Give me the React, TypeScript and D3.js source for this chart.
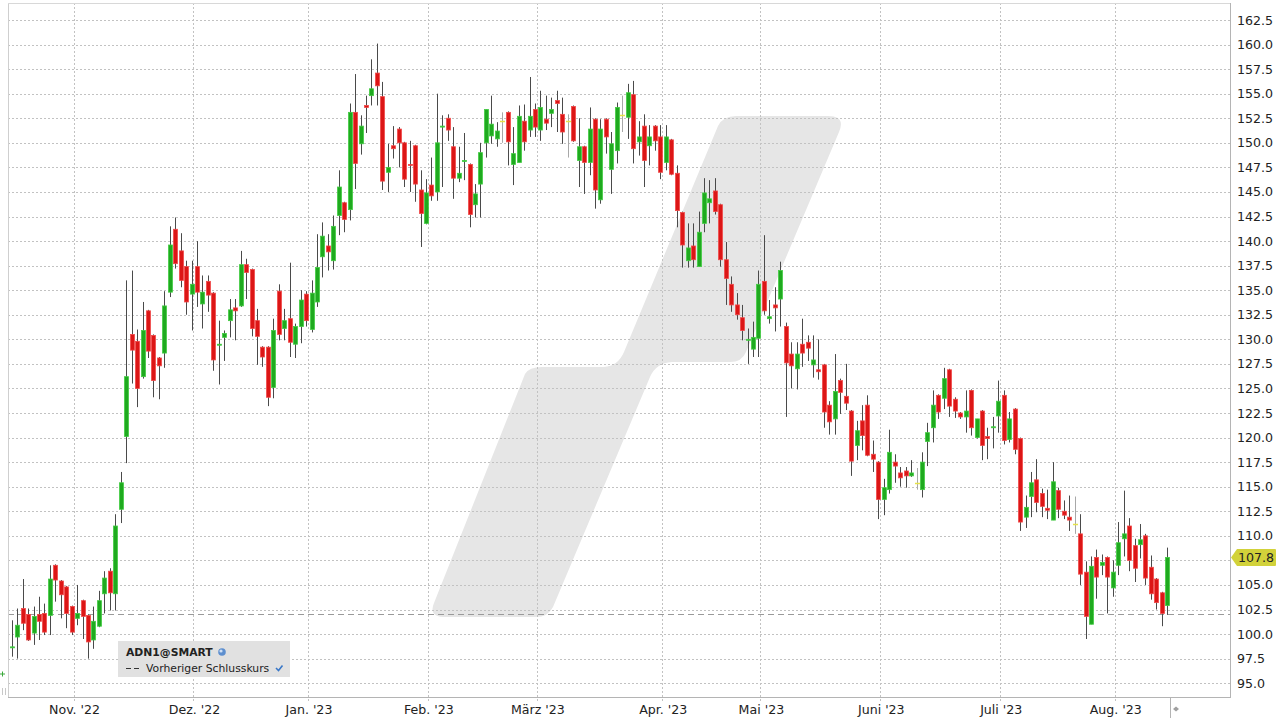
import React from 'react';
import * as d3 from 'd3';

// ---- Data (ADN1@SMART daily candles, Oct 2022 – Aug 2023) ----
const opens = [
  98.6, 99.7, 102.6, 102.0, 100.1, 102.0, 102.1, 101.9, 107.0, 105.4,
  104.8, 102.8, 101.6, 103.4, 101.9, 99.4, 100.8, 104.1, 106.4, 104.1,
  112.7, 120.1, 130.5, 129.8, 126.2, 132.9, 130.4, 128.1, 128.6, 134.8,
  141.2, 139.0, 137.4, 134.6, 137.4, 133.6, 135.9, 134.7, 129.4, 130.2,
  131.9, 133.2, 133.4, 137.6, 137.1, 131.9, 129.2, 129.2, 125.1, 134.9,
  131.1, 132.1, 129.5,
  131.3, 134.6, 131.0, 133.8, 138.4, 139.5, 138.0,
  142.6, 143.9, 143.2, 153.1, 149.9, 153.8, 154.8, 157.1, 154.7, 147.0,
  149.7, 151.4, 150.0, 147.8, 149.7, 145.2, 141.8, 145.7, 145.0, 151.6,
  152.5, 149.6, 146.4, 148.1, 147.8, 143.7, 145.8, 150.0, 150.7, 150.4,
  152.2, 153.1, 147.8, 148.0, 152.2, 151.3, 153.4, 151.3, 152.4, 153.0,
  154.3, 152.9, 152.2, 153.7, 148.2, 149.6, 148.0, 152.4, 144.2, 152.4,
  147.3, 149.2, 152.8, 152.6, 154.9, 150.1, 151.7, 149.7, 151.7, 150.6,
  148.0, 150.3, 146.9, 142.9, 138.0, 139.5, 137.4,
  141.8, 143.9, 145.1, 143.7, 138.1, 135.6, 133.5, 132.2, 129.9, 129.0,
  130.1, 135.9, 132.1, 133.5, 134.1,
  131.3, 128.5, 127.0, 129.5, 129.7, 127.4, 126.9, 127.4, 123.3, 121.9,
  125.8, 124.2, 122.7, 119.2, 121.7, 123.3, 118.3, 117.5, 113.7, 114.7,
  117.5, 116.4, 116.6, 116.1, 115.4, 114.7, 119.6, 121.0, 124.3, 124.0,
  126.9, 123.9, 122.5, 122.1, 124.8, 120.0, 122.7, 120.1, 121.0, 122.2,
  124.3, 119.8, 122.9, 119.9, 111.9, 114.0, 115.7, 114.3, 112.8,
  111.6, 114.6, 112.5, 111.9, 111.2, 110.2, 106.3, 101.0, 107.8, 107.0,
  107.8, 104.7, 107.0, 109.7, 111.0, 109.0, 109.1, 110.0, 106.8, 105.6, 104.2, 102.9,
];

const highs = [
  101.4, 102.6, 105.6, 102.6, 102.8, 103.8, 103.1, 107.0, 107.1, 105.5,
  104.9, 102.9, 105.0, 103.5, 102.0, 102.8, 104.4, 106.4, 106.7, 112.2,
  116.5, 136.0, 137.0, 131.0, 133.8, 133.0, 130.5, 128.2, 134.9, 141.5,
  142.4, 140.8, 138.0, 138.0, 140.0, 136.5, 136.5, 134.8, 131.9, 130.9,
  134.1, 134.1, 139.0, 138.2, 137.2, 133.1, 129.3, 129.3, 132.1, 135.6,
  133.1, 137.8, 131.6,
  135.0, 134.9, 136.0, 140.7, 141.9, 140.7, 142.6,
  147.2, 144.0, 154.0, 157.0, 152.8, 154.8, 158.5, 160.1, 156.2, 149.9,
  151.7, 151.6, 150.1, 150.2, 149.8, 147.2, 146.3, 148.5, 155.0, 152.8,
  152.9, 151.6, 149.6, 151.0, 147.9, 145.8, 150.0, 153.4, 154.8, 152.1,
  153.1, 153.2, 151.6, 153.8, 153.9, 156.7, 154.0, 155.3, 154.8, 154.6,
  155.3, 154.6, 152.9, 153.8, 152.5, 149.7, 153.6, 152.5, 152.4, 152.5,
  151.1, 154.1, 154.8, 156.0, 156.3, 152.2, 152.9, 151.8, 151.8, 151.8,
  151.8, 150.4, 147.7, 143.0, 141.8, 141.8, 143.0,
  146.4, 146.2, 146.4, 143.8, 139.9, 136.4, 134.7, 133.5, 131.1, 131.8,
  137.0, 140.6, 134.0, 135.3, 137.9,
  131.7, 129.7, 129.7, 132.1, 130.4, 130.4, 130.0, 127.5, 123.7, 128.5,
  126.0, 127.5, 122.8, 121.7, 123.3, 124.3, 119.7, 117.6, 115.8, 120.8,
  118.3, 117.0, 117.0, 117.7, 116.9, 118.5, 121.5, 124.8, 124.4, 127.1,
  127.0, 124.1, 122.6, 124.8, 124.9, 121.9, 122.8, 121.0, 122.1, 125.8,
  124.8, 122.6, 123.0, 120.0, 114.1, 116.5, 117.8, 114.8, 114.7,
  117.5, 114.9, 113.6, 114.1, 114.0, 112.2, 107.4, 107.9, 108.6, 108.1,
  107.9, 107.5, 111.4, 114.6, 111.8, 109.7, 111.2, 110.2, 108.0, 105.7, 104.3, 108.8,
];

const lows = [
  97.7, 97.5, 100.4, 99.3, 98.9, 99.4, 99.9, 99.9, 103.3, 101.6,
  100.6, 99.9, 100.9, 99.5, 97.5, 98.5, 100.7, 102.1, 102.4, 102.4,
  111.3, 117.4, 125.5, 123.1, 126.0, 128.1, 124.1, 123.9, 127.1, 134.3,
  137.2, 135.3, 132.5, 130.9, 133.3, 131.1, 132.8, 126.8, 125.4, 127.8,
  130.2, 129.9, 133.3, 134.1, 130.3, 127.4, 127.2, 123.2, 124.0, 129.9,
  129.9, 128.2, 128.1,
  129.6, 131.3, 130.7, 133.3, 136.3, 137.0, 137.1,
  140.6, 140.9, 142.1, 145.3, 148.8, 151.0, 153.8, 153.8, 145.2, 145.0,
  148.4, 147.5, 145.5, 145.0, 144.0, 139.4, 141.7, 144.1, 144.1, 145.5,
  150.2, 144.3, 146.0, 146.2, 141.4, 142.4, 142.4, 148.5, 149.9, 149.6,
  150.0, 147.7, 145.7, 148.0, 149.2, 150.6, 150.6, 150.2, 151.3, 151.6,
  151.1, 149.9, 148.5, 150.1, 145.5, 144.8, 146.7, 143.3, 143.8, 148.9,
  144.8, 147.9, 151.1, 150.4, 147.9, 148.7, 145.5, 147.7, 149.2, 146.3,
  147.2, 146.7, 141.4, 137.3, 137.3, 137.3, 137.4,
  140.9, 141.8, 142.7, 137.4, 133.5, 132.8, 132.0, 129.9, 127.5, 128.2,
  128.2, 132.5, 131.6, 130.8, 131.3,
  122.1, 125.0, 124.9, 127.2, 127.8, 126.1, 125.9, 121.0, 120.3, 120.3,
  122.4, 122.8, 116.1, 117.7, 118.7, 118.1, 116.5, 111.7, 112.1, 114.3,
  115.4, 115.0, 114.9, 116.0, 114.7, 113.9, 117.1, 119.5, 121.9, 122.9,
  122.1, 122.0, 121.9, 120.5, 120.2, 119.9, 117.7, 117.8, 118.9, 120.5,
  119.3, 119.5, 118.3, 110.5, 110.8, 111.9, 112.4, 111.9, 111.7,
  111.6, 111.8, 111.7, 110.5, 110.2, 105.0, 99.5, 101.0, 103.6, 106.0,
  102.1, 103.8, 106.0, 107.9, 106.4, 105.3, 107.7, 105.0, 103.5, 102.5, 100.8, 101.95,
];

const closes = [
  98.7, 100.9, 101.1, 99.4, 101.8, 101.3, 100.2, 105.6, 105.5, 104.0,
  102.1, 100.2, 102.1, 101.8, 99.2, 101.3, 103.4, 105.7, 104.2, 111.0,
  115.4, 126.2, 128.9, 125.0, 130.9, 128.8, 125.8, 127.3, 133.4, 139.6,
  137.7, 136.0, 133.8, 135.6, 134.8, 134.8, 134.5, 127.9, 129.5, 130.6,
  133.0, 132.9, 137.6, 136.8, 131.1, 130.3, 128.2, 124.1, 130.9, 130.5,
  131.9, 129.7, 131.3,
  134.0, 131.9, 134.7, 137.3, 140.5, 138.9, 141.5,
  145.5, 142.2, 153.1, 147.9, 151.7, 153.6, 155.5, 155.8, 146.1, 147.5,
  149.4, 150.0, 146.3, 147.7, 145.8, 142.8, 144.9, 144.6, 150.0, 151.7,
  151.3, 146.4, 146.9, 148.2, 142.7, 144.8, 149.0, 153.4, 151.9, 151.2,
  152.2, 150.1, 148.9, 152.7, 150.1, 152.7, 151.6, 153.6, 152.0, 153.4,
  154.0, 151.1, 152.2, 150.2, 149.6, 148.0, 151.4, 145.2, 151.4, 150.6,
  149.9, 153.6, 152.8, 155.1, 149.4, 150.6, 148.2, 150.6, 150.2, 147.0,
  150.6, 146.8, 143.1, 139.6, 139.3, 138.1, 140.9,
  144.9, 144.3, 143.0, 138.1, 136.2, 133.5, 132.5, 130.9, 130.0, 130.2,
  135.6, 132.9, 132.3, 133.2, 137.0,
  127.6, 127.3, 128.5, 128.6, 129.1, 127.9, 126.7, 122.6, 121.6, 124.7,
  124.6, 123.5, 117.6, 120.7, 120.2, 118.2, 117.8, 113.7, 114.9, 118.5,
  117.1, 115.9, 116.1, 116.4, 115.4, 117.5, 120.5, 123.3, 122.6, 126.0,
  123.2, 122.7, 122.1, 122.7, 121.0, 121.9, 119.2, 119.9, 121.1, 123.7,
  119.7, 121.9, 118.8, 111.4, 112.9, 115.4, 113.4, 113.0, 112.6,
  115.5, 112.7, 112.1, 111.6, 111.2, 106.1, 101.8, 106.9, 105.8, 107.3,
  105.8, 106.3, 109.3, 110.2, 107.5, 106.7, 109.6, 105.7, 104.1, 103.2, 102.1, 107.8,
];

const monthLabels = ["Nov. '22", "Dez. '22", "Jan. '23", "Feb. '23", "März '23", "Apr. '23", "Mai '23", "Juni '23", "Juli '23", "Aug. '23"];
const monthStartIdx = [11, 33, 54, 76, 96, 119, 137, 159, 181, 202];
const yTickValues = [95, 97.5, 100, 102.5, 105, 107.5, 110, 112.5, 115, 117.5, 120, 122.5, 125, 127.5, 130, 132.5, 135, 137.5, 140, 142.5, 145, 147.5, 150, 152.5, 155, 157.5, 160, 162.5];
const previousClose = 102.05;
const symbolName = 'ADN1@SMART';
const legendLabel = 'Vorheriger Schlusskurs';

const FONT = "'DejaVu Sans', Verdana, sans-serif";

export default function App() {
  const N = opens.length;
  const left = 8, right = 1230, top = 3, bottom = 697;
  const x = d3.scaleLinear().domain([0, N - 1]).range([11.7, 1167.3]);
  const y = d3.scaleLinear().domain([95, 162.5]).range([683.2, 20]);
  const px = (v: number) => Math.round(v) + 0.5;

  const lastClose = closes[N - 1];
  const yl = y(lastClose);

  const watermark =
    'M446,617 Q428,617 434,603 L525,374 Q529,367 542,367 L604,367 Q618,366 624,352 ' +
    'L718,126 Q723,116 736,116 L828,116 Q846,116 839,132 L746,352 Q742,362 730,362 ' +
    'L672,362 Q656,363 650,377 L553,607 Q548,617 536,617 Z';

  return (
    <svg width={1280} height={720} style={{ position: 'absolute', left: 0, top: 0 }} fontFamily={FONT}>
      <rect width={1280} height={720} fill="#ffffff" />
      <path d={watermark} fill="#e6e6e6" />

      {/* horizontal grid */}
      {yTickValues.map((v) => (
        <line key={'h' + v} x1={left} x2={right} y1={px(y(v))} y2={px(y(v))}
          stroke="#c2c2c2" strokeDasharray="2,2" strokeWidth={1} />
      ))}
      {/* vertical month grid */}
      {monthStartIdx.map((i, k) => (
        <line key={'v' + k} x1={px(x(i + 0.35))} x2={px(x(i + 0.35))} y1={top} y2={bottom + 4}
          stroke="#c2c2c2" strokeDasharray="2,2" strokeWidth={1} />
      ))}

      {/* previous close */}
      <line x1={left} x2={right} y1={px(y(previousClose))} y2={px(y(previousClose))}
        stroke="#9a9a9a" strokeDasharray="6,4" strokeWidth={1.2} />

      {/* candles */}
      {opens.map((o, i) => {
        const c = closes[i], h = highs[i], l = lows[i];
        const cx = x(i);
        const wx = px(cx);
        const doji = Math.abs(c - o) < 0.05;
        const up = c >= o;
        const yTop = y(Math.max(o, c));
        const yBot = y(Math.min(o, c));
        const bh = Math.max(1, yBot - yTop);
        return (
          <g key={'c' + i}>
            <line x1={wx} x2={wx} y1={y(h)} y2={y(l)} stroke={doji ? '#a8a8a8' : '#4a4a4a'} strokeWidth={1} />
            {doji ? (
              <line x1={Math.round(cx) - 2} x2={Math.round(cx) + 3} y1={px(y(c))} y2={px(y(c))} stroke="#e6e24a" strokeWidth={1.5} />
            ) : (
              <rect x={Math.round(cx) - 1.5} y={yTop} width={4} height={bh}
                fill={up ? '#1faa1f' : '#dc1616'} stroke={up ? '#44cc44' : '#f04a4a'} strokeWidth={0.8} />
            )}
          </g>
        );
      })}

      {/* frame */}
      <line x1={left + 0.5} x2={left + 0.5} y1={top} y2={bottom} stroke="#cfcfcf" />
      <line x1={left} x2={right} y1={top + 0.5} y2={top + 0.5} stroke="#d8d8d8" />
      <line x1={right + 0.5} x2={right + 0.5} y1={top} y2={bottom} stroke="#b4b4b4" />
      <line x1={left} x2={right + 1} y1={bottom + 0.5} y2={bottom + 0.5} stroke="#b4b4b4" />

      {/* y axis labels (hidden where the last-price label covers them) */}
      {yTickValues.filter((v) => Math.abs(y(v) - yl) > 12).map((v) => (
        <text key={'t' + v} x={1237} y={y(v)} dy="0.36em" fontSize={12.6} fill="#222">{v.toFixed(1)}</text>
      ))}

      {/* x axis labels */}
      {monthStartIdx.map((i, k) => (
        <text key={'m' + k} x={x(i + 0.35) + 1} y={714} textAnchor="middle" fontSize={12.6} fill="#222">{monthLabels[k]}</text>
      ))}

      {/* last price label */}
      <path d={`M1231,${yl} L1237,${yl - 8.5} L1275,${yl - 8.5} Q1276,${yl - 8.5} 1276,${yl - 7.5} L1276,${yl + 7.5} Q1276,${yl + 8.5} 1275,${yl + 8.5} L1237,${yl + 8.5} Z`}
        fill="#d2d23a" />
      <text x={1238} y={yl} dy="0.36em" fontSize={12.6} fill="#222">{lastClose.toFixed(1)}</text>

      {/* bottom right separator & marker */}
      <line x1={1170.5} x2={1170.5} y1={bottom} y2={718} stroke="#b4b4b4" />
      <path d="M1173,709 L1176,706.5 L1179,709 L1176,711.5 Z" fill="#a0a0a0" />

      {/* left edge markers */}
      <path d="M0,674 L5,674 M2.5,671.5 L2.5,676.5" stroke="#3aa83a" strokeWidth={1} />
      <line x1={2.5} x2={2.5} y1={688} y2={695} stroke="#c8c8c8" />
      <line x1={5.5} x2={5.5} y1={688} y2={695} stroke="#c8c8c8" />

      {/* legend */}
      <rect x={118} y={641} width={172} height={36} fill="#e1e1e1" />
      <text x={126} y={656} fontSize={10.8} fontWeight="bold" fill="#222">{symbolName}</text>
      <circle cx={222} cy={652} r={3.8} fill="#5d8fcf" />
      <circle cx={221} cy={651} r={1.6} fill="#cfe0f5" />
      <line x1={126} x2={140} y1={668.5} y2={668.5} stroke="#333" strokeWidth={1.2} strokeDasharray="5,3" />
      <text x={146} y={672} fontSize={10.8} fill="#222">{legendLabel}</text>
      <path d="M276,668 L278.5,670.5 L282.5,665.5" stroke="#3a78c8" strokeWidth={1.6} fill="none" />
    </svg>
  );
}
